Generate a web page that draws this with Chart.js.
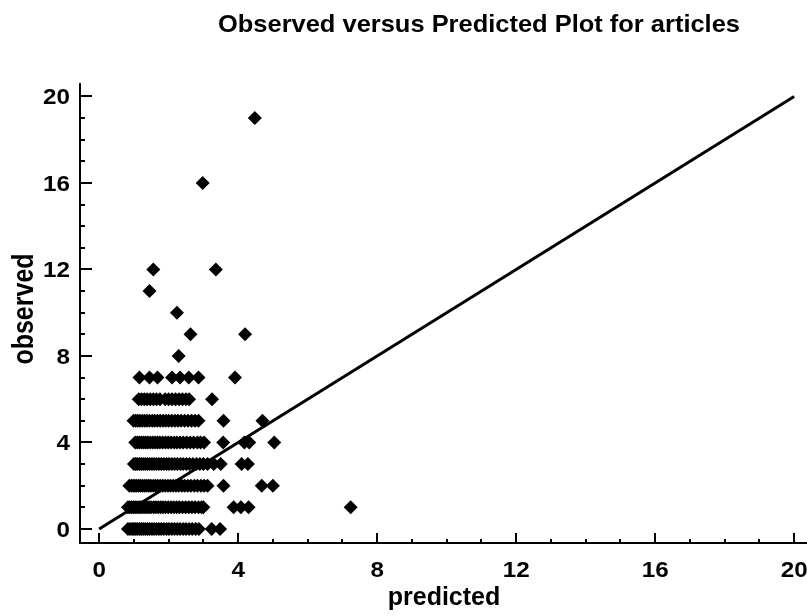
<!DOCTYPE html>
<html><head><meta charset="utf-8">
<script src="https://cdn.jsdelivr.net/npm/chart.js@4"></script>
<style>html,body{margin:0;padding:0;background:#fff;overflow:hidden}canvas{display:block}</style>
</head><body>
<canvas id="c" width="807" height="616"></canvas>
<script>
// ---- data ----
const chartTitle = 'Observed versus Predicted Plot for articles';
const xAxisTitle = 'predicted';
const yAxisTitle = 'observed';
const xTicks = [0, 4, 8, 12, 16, 20];
const yTicks = [0, 4, 8, 12, 16, 20];
const minorTicks = [0,1,2,3,4,5,6,7,8,9,10,11,12,13,14,15,16,17,18,19,20];
const diagonalX = [0, 20];
const diagonalY = [0, 20];
const observedLevels = [0, 1, 2, 3, 4, 5, 6, 7, 8, 9, 10, 11, 12, 16, 19];
const predictedAtLevel = [
  [0.83,0.89,0.95,1.0,1.05,1.1,1.16,1.21,1.27,1.33,1.39,1.45,1.52,1.58,1.65,1.72,1.79,1.86,1.94,2.01,2.09,2.17,2.25,2.33,2.42,2.5,2.59,2.68,2.78,2.87,3.24,3.48],
  [0.83,0.88,0.94,0.99,1.04,1.09,1.15,1.2,1.26,1.32,1.38,1.44,1.5,1.57,1.63,1.7,1.77,1.84,1.91,1.99,2.07,2.15,2.23,2.31,2.4,2.49,2.58,2.67,2.76,2.86,2.95,3.0,3.87,4.08,4.3,7.24],
  [0.87,0.93,0.98,1.03,1.08,1.14,1.19,1.25,1.31,1.37,1.43,1.49,1.56,1.62,1.69,1.76,1.83,1.9,1.98,2.05,2.13,2.21,2.29,2.38,2.46,2.55,2.64,2.74,2.83,2.93,3.02,3.12,3.58,4.68,5.0],
  [1.0,1.05,1.1,1.16,1.21,1.27,1.33,1.39,1.45,1.52,1.58,1.65,1.72,1.79,1.86,1.94,2.01,2.09,2.17,2.25,2.34,2.42,2.51,2.6,2.7,2.8,2.9,3.0,3.12,3.3,3.5,4.1,4.28],
  [1.04,1.1,1.16,1.22,1.28,1.34,1.4,1.47,1.54,1.61,1.68,1.75,1.83,1.91,1.99,2.07,2.16,2.24,2.33,2.42,2.52,2.62,2.72,2.83,2.92,3.02,3.57,4.18,4.32,5.04],
  [0.99,1.05,1.11,1.17,1.24,1.31,1.38,1.45,1.53,1.6,1.68,1.76,1.84,1.92,2.0,2.09,2.18,2.27,2.36,2.46,2.56,2.66,2.76,2.86,3.58,4.7],
  [1.14,1.22,1.3,1.38,1.47,1.56,1.65,1.75,1.9,2.0,2.1,2.2,2.3,2.4,2.5,2.59,3.25],
  [1.16,1.45,1.68,2.1,2.33,2.58,2.86,3.91],
  [2.29],
  [2.63,4.2],
  [2.24],
  [1.45],
  [1.56,3.36],
  [2.98],
  [4.48]
];

// ---- build datasets ----
const scatterPoints = [];
observedLevels.forEach((obs, i) => {
  predictedAtLevel[i].forEach(p => scatterPoints.push({x: p, y: obs}));
});
const diagonalPoints = diagonalX.map((x, i) => ({x: x, y: diagonalY[i]}));

const FONT = '"Liberation Sans", Arial, sans-serif';
const TICK_STRETCH = 1.1;

const decorPlugin = {
  id: 'decor',
  afterDraw(chart) {
    const ctx = chart.ctx;
    const xs = chart.scales.x, ys = chart.scales.y;
    const area = chart.chartArea;
    ctx.save();
    ctx.strokeStyle = '#000';
    ctx.lineWidth = 2;
    ctx.lineCap = 'butt';
    // axis lines
    ctx.beginPath();
    ctx.moveTo(area.left, area.top);
    ctx.lineTo(area.left, area.bottom);
    ctx.lineTo(area.right, area.bottom);
    ctx.stroke();
    // ticks (inward)
    ctx.beginPath();
    minorTicks.forEach(v => {
      const major = xTicks.includes(v);
      const px = Math.round(xs.getPixelForValue(v));
      ctx.moveTo(px, area.bottom);
      ctx.lineTo(px, area.bottom - (major ? 10 : 4));
    });
    minorTicks.forEach(v => {
      const major = yTicks.includes(v);
      const py = Math.round(ys.getPixelForValue(v));
      ctx.moveTo(area.left, py);
      ctx.lineTo(area.left + (major ? 12 : 5), py);
    });
    ctx.stroke();
    ctx.fillStyle = '#000';
    ctx.textBaseline = 'alphabetic';
    // tick labels (from the scales' ticks)
    ctx.font = 'bold 22px ' + FONT;
    ctx.textAlign = 'center';
    xs.ticks.forEach(t => {
      const px = xs.getPixelForValue(t.value);
      ctx.save();
      ctx.translate(px, 577);
      ctx.scale(TICK_STRETCH, 1);
      ctx.fillText(String(t.value), 0, 0);
      ctx.restore();
    });
    ctx.textAlign = 'right';
    ys.ticks.forEach(t => {
      const py = ys.getPixelForValue(t.value);
      ctx.save();
      ctx.translate(70, py + 8);
      ctx.scale(TICK_STRETCH, 1);
      ctx.fillText(String(t.value), 0, 0);
      ctx.restore();
    });
    // titles
    ctx.textAlign = 'center';
    ctx.font = 'bold 24px ' + FONT;
    const tw = ctx.measureText(chartTitle).width;
    ctx.save();
    ctx.translate(479, 32);
    ctx.scale(522 / tw, 1);
    ctx.fillText(chartTitle, 0, 0);
    ctx.restore();
    ctx.font = 'bold 25px ' + FONT;
    ctx.fillText(xAxisTitle, 444, 605);
    ctx.save();
    ctx.translate(33, 309);
    ctx.rotate(-Math.PI / 2);
    ctx.scale(1, 1.15);
    ctx.fillText(yAxisTitle, 0, 0);
    ctx.restore();
    ctx.restore();
  }
};

new Chart(document.getElementById('c'), {
  data: {
    datasets: [
      {
        type: 'scatter',
        data: scatterPoints,
        pointStyle: 'rectRot',
        pointRadius: 7,
        pointBackgroundColor: '#000',
        pointBorderWidth: 0,
        borderWidth: 0
      },
      {
        type: 'line',
        data: diagonalPoints,
        borderColor: '#000',
        borderWidth: 3,
        pointRadius: 0,
        fill: false,
        tension: 0
      }
    ]
  },
  options: {
    responsive: false,
    animation: false,
    devicePixelRatio: 1,
    layout: {autoPadding: false, padding: {top: 83, left: 0, right: 0, bottom: 0}},
    plugins: {legend: {display: false}, tooltip: {enabled: false}, title: {display: false}},
    scales: {
      x: {
        type: 'linear',
        min: -0.55, max: 20.37,
        afterBuildTicks: s => { s.ticks = xTicks.map(v => ({value: v})); },
        afterFit: s => { s.height = 73; },
        grid: {display: false, drawTicks: false},
        border: {display: false},
        ticks: {display: false}
      },
      y: {
        type: 'linear',
        min: -0.65, max: 20.62,
        afterBuildTicks: s => { s.ticks = yTicks.map(v => ({value: v})); },
        afterFit: s => { s.width = 80; },
        grid: {display: false, drawTicks: false},
        border: {display: false},
        ticks: {display: false}
      }
    }
  },
  plugins: [decorPlugin]
});
</script>
</body></html>
